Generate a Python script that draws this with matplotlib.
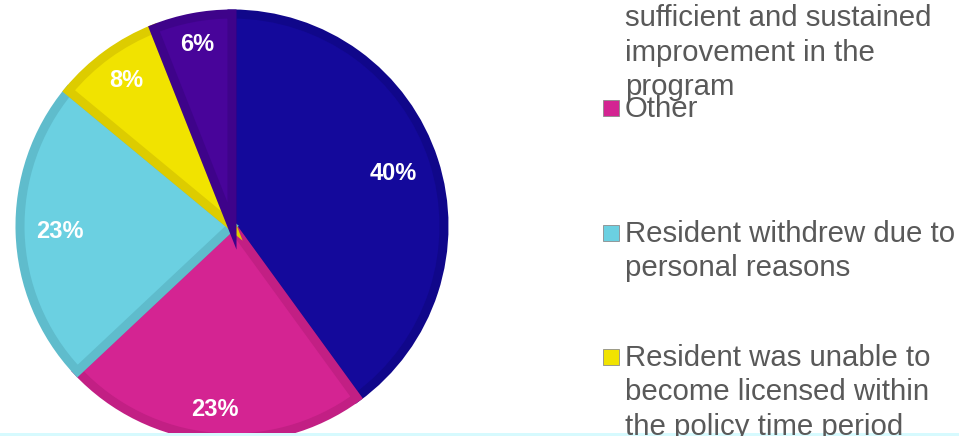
import matplotlib
matplotlib.use("Agg")
import matplotlib.pyplot as plt
from matplotlib.patches import Rectangle
import numpy as np

# share of residents by reason for leaving
labels = [
    "Resident did not demonstrate\nsufficient and sustained\nimprovement in the\nprogram",
    "Other",
    "Resident withdrew due to\npersonal reasons",
    "Resident was unable to\nbecome licensed within\nthe policy time period",
    "Resident was dismissed",
]
values = [40, 23, 23, 8, 6]
fills = ["#14099B", "#D42492", "#6BD0E1", "#F1E300", "#48049A"]
edges = ["#10078A", "#C21F84", "#5FBCCC", "#DDCC00", "#3E038A"]
label_dist = [0.80, 0.87, 0.81, 0.85, 0.87]

W, H = 959, 436
fig = plt.figure(figsize=(W / 100, H / 100), dpi=100)

# pie axes: centre (232, 226) px, radius ~212 px
cx, cy, r = 232, 226, 212
ax = fig.add_axes([(cx - r) / W, (H - cy - r) / H, 2 * r / W, 2 * r / H])
wedges, _ = ax.pie(values, colors=fills, startangle=90, counterclock=False,
                   radius=1.0, wedgeprops=dict(linewidth=0))
for w, ec in zip(wedges, edges):
    w.set_edgecolor(ec)
    w.set_linewidth(6.5)
    w.set_clip_path(w)   # keep the border inside the slice
ax.set_xlim(-1, 1)
ax.set_ylim(-1, 1)
ax.set_aspect("equal")
ax.axis("off")

for w, v, d in zip(wedges, values, label_dist):
    ang = np.deg2rad((w.theta1 + w.theta2) / 2)
    ax.text(d * np.cos(ang), d * np.sin(ang), f"{v}%", color="white",
            fontsize=17, fontweight="bold", family="Liberation Sans",
            ha="center", va="center")

# legend drawn by hand, entries spaced down the right side
first_line_y = [-17, 108, 233, 357, 481]
for lab, col, y in zip(labels, fills, first_line_y):
    fig.patches.append(Rectangle((603 / W, (H - y - 8) / H), 16 / W, 16 / H,
                                 transform=fig.transFigure, facecolor=col,
                                 edgecolor="#8c8c8c", linewidth=0.6))
    fig.text(625 / W, (H - y + 13) / H, lab, color="#595959", fontsize=21.2,
             family="Liberation Sans", ha="left", va="top", linespacing=1.29)

# faint strip along the bottom edge
fig.patches.append(Rectangle((0, 0), 1, 3 / H, transform=fig.transFigure,
                             facecolor="#D6FAFE", edgecolor="none"))

fig.savefig("out.png", dpi=100)
